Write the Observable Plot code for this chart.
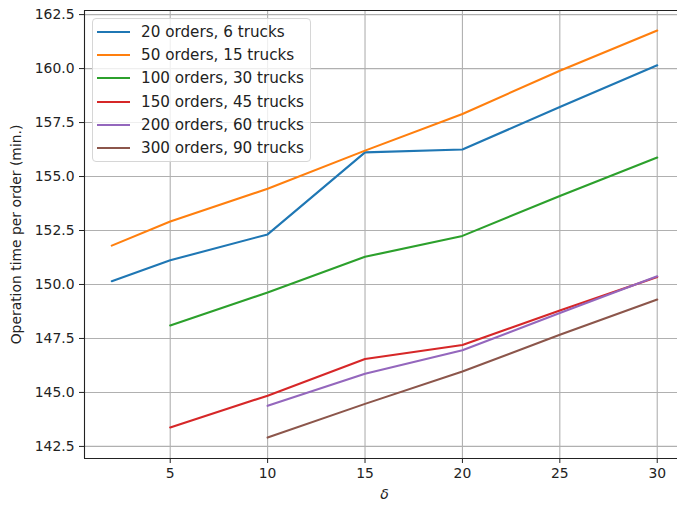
<!DOCTYPE html>
<html>
<head>
<meta charset="utf-8">
<script src="https://cdn.jsdelivr.net/npm/d3@7"></script>
<script src="https://cdn.jsdelivr.net/npm/@observablehq/plot@0.6"></script>
<style>
  html, body { margin: 0; padding: 0; background: #fff; }
  #wrap { position: relative; width: 677px; height: 508px; overflow: hidden; }
  #wrap svg { max-width: none !important; }
  #legend {
    position: absolute; left: 92px; top: 18px; width: 217px; height: 142px;
    border: 1px solid #d6d6d6; border-radius: 4px; background: rgba(255,255,255,0.8);
    font-family: "DejaVu Sans", sans-serif; font-size: 15.2px; color: #222;
    box-sizing: content-box;
  }
  #legend .row { position: absolute; left: 0; height: 20px; display: flex; align-items: center; }
  #legend .swatch { width: 33px; height: 2px; margin-left: 4px; margin-right: 11px; }
</style>
</head>
<body>
<div id="wrap"><div id="legend"></div></div>
<script>
// δ values on the x axis
const deltas = [2, 5, 10, 15, 20, 25, 30];

// Series labels and colours
const seriesNames = [
  "20 orders, 6 trucks",
  "50 orders, 15 trucks",
  "100 orders, 30 trucks",
  "150 orders, 45 trucks",
  "200 orders, 60 trucks",
  "300 orders, 90 trucks"
];
const seriesColors = ["#1f77b4", "#ff7f0e", "#2ca02c", "#d62728", "#9467bd", "#8c564b"];

// Operation time per order (min.) for each δ; null where not run
const orders20  = [150.15, 151.12, 152.32, 156.12, 156.25, 158.22, 160.15];
const orders50  = [151.80, 152.92, 154.43, 156.20, 157.90, 159.90, 161.76];
const orders100 = [null,   148.10, 149.63, 151.28, 152.25, 154.10, 155.88];
const orders150 = [null,   143.38, 144.85, 146.55, 147.20, 148.80, 150.35];
const orders200 = [null,   null,   144.38, 145.87, 146.95, 148.68, 150.38];
const orders300 = [null,   null,   142.91, 144.47, 145.97, 147.67, 149.30];

// Tick positions
const xTicks = [5, 10, 15, 20, 25, 30];
const yTicks = [142.5, 145.0, 147.5, 150.0, 152.5, 155.0, 157.5, 160.0, 162.5];

const allSeries = [orders20, orders50, orders100, orders150, orders200, orders300];
const rows = [];
allSeries.forEach((vals, i) => {
  vals.forEach((v, j) => {
    if (v != null) rows.push({series: seriesNames[i], delta: deltas[j], time: v});
  });
});

const xDomain = [0.6, 31.4];
const yDomain = [141.94, 162.69];

const chart = Plot.plot({
  width: 684,
  height: 508,
  marginLeft: 84,
  marginRight: 0,
  marginTop: 10,
  marginBottom: 50,
  style: {fontFamily: "DejaVu Sans, sans-serif", fontSize: "13.9px", color: "#222", background: "transparent", maxWidth: "none"},
  x: {domain: xDomain},
  y: {domain: yDomain},
  color: {domain: seriesNames, range: seriesColors},
  marks: [
    Plot.gridX(xTicks, {stroke: "#b0b0b0", strokeOpacity: 1, strokeWidth: 1.1}),
    Plot.gridY(yTicks, {stroke: "#b0b0b0", strokeOpacity: 1, strokeWidth: 1.1}),
    Plot.axisX(xTicks, {tickSize: 5, tickPadding: 5, label: null, stroke: "#222"}),
    Plot.axisY(yTicks, {tickSize: 5, tickPadding: 5, label: null, tickFormat: d3.format(".1f"), stroke: "#222"}),
    Plot.ruleX([xDomain[0]], {stroke: "#222", strokeWidth: 1.1}),
    Plot.ruleY(yDomain, {stroke: "#222", strokeWidth: 1.1}),
    Plot.line(rows, {x: "delta", y: "time", z: "series", stroke: "series", strokeWidth: 2.1}),
    Plot.text(["δ"], {frameAnchor: "bottom", textAnchor: "middle", dy: 40, fontStyle: "italic", fontSize: 14, fill: "#222"}),
    Plot.text(["Operation time per order (min.)"], {frameAnchor: "left", textAnchor: "middle", rotate: -90, dx: -68, fontSize: 13.9, fill: "#222"})
  ]
});

const wrap = document.getElementById("wrap");
wrap.insertBefore(chart, wrap.firstChild);

// Legend inside the axes, upper left
const legend = document.getElementById("legend");
seriesNames.forEach((name, i) => {
  const row = document.createElement("div");
  row.className = "row";
  row.style.top = (3 + i * 23.2) + "px";
  const sw = document.createElement("span");
  sw.className = "swatch";
  sw.style.background = seriesColors[i];
  const label = document.createElement("span");
  label.textContent = name;
  row.appendChild(sw);
  row.appendChild(label);
  legend.appendChild(row);
});
</script>
</body>
</html>
